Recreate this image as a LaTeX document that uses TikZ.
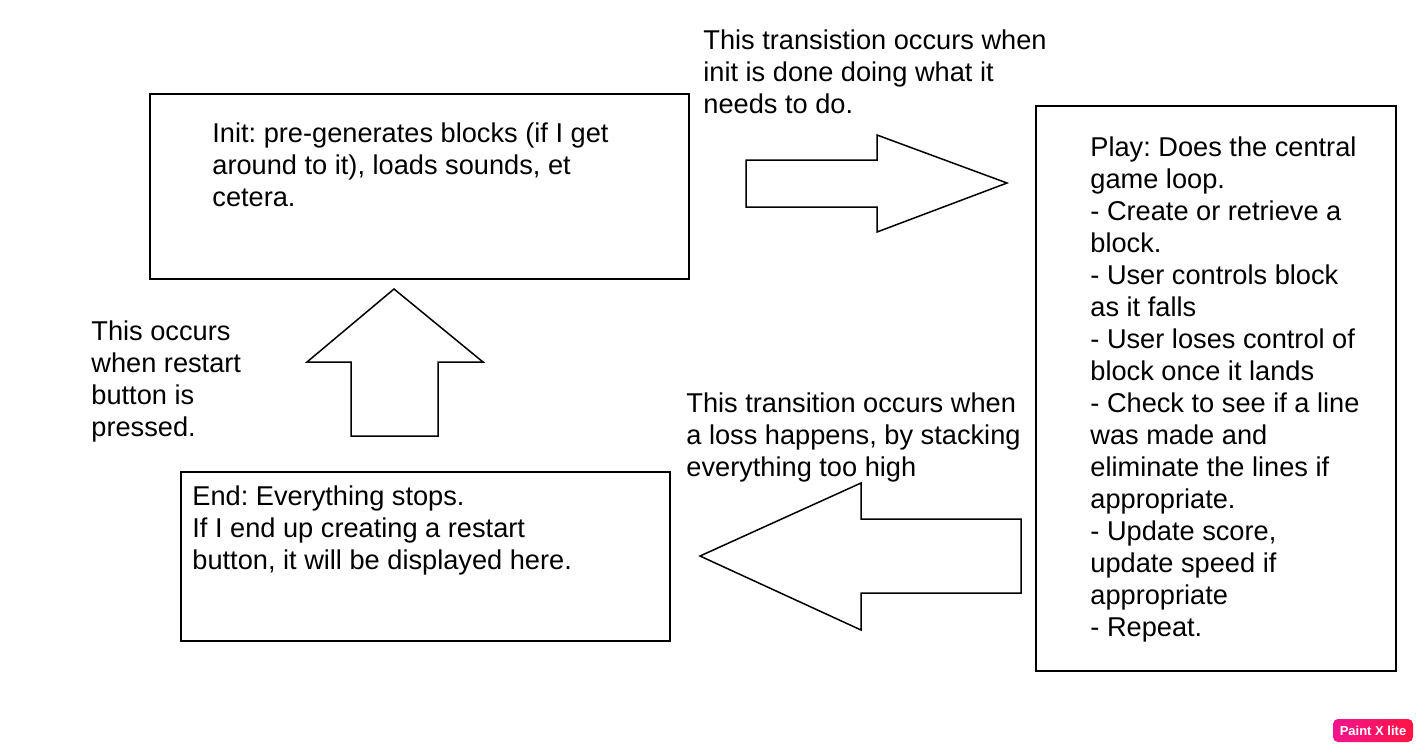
\documentclass[tikz,border=0pt]{standalone}
\usepackage{fontspec}
\setmainfont{Liberation Sans}
\frenchspacing
\definecolor{paintpink}{HTML}{F2148E}
\definecolor{paintred}{HTML}{FF1443}
\begin{document}
\begin{tikzpicture}[x=0.5pt,y=-0.5pt,
	statebox/.style={draw, line width=1pt},
	blockarrow/.style={draw, line width=0.75pt, line join=miter},
	txt/.style={anchor=base west, inner sep=0pt, align=left, font=\fontsize{13.6}{16}\selectfont},
	logo/.style={rounded corners=2.5pt, shade, left color=paintpink, right color=paintred, text=white,
		font=\fontsize{6.5}{7}\selectfont\bfseries, minimum width=40pt, minimum height=11.5pt, inner sep=0pt}]
	\useasboundingbox (0,0) rectangle (1423,752);

	% states (texts placed by their last baseline)
	\draw[statebox] (150,94) rectangle (689,279);
	\node[txt] (init) at (212,206) {Init: pre-generates blocks (if I get\\around to it), loads sounds, et\\cetera.};

	\draw[statebox] (1036,106) rectangle (1396,671);
	\node[txt] (play) at (1090,636) {Play: Does the central\\game loop.\\- Create or retrieve a\\block.\\- User controls block\\as it falls\\- User loses control of\\block once it lands\\- Check to see if a line\\was made and\\eliminate the lines if\\appropriate.\\- Update score,\\update speed if\\appropriate\\- Repeat.};

	\draw[statebox] (181,472) rectangle (670,641);
	\node[txt] (end) at (192,569) {End: Everything stops.\\If I end up creating a restart\\button, it will be displayed here.};

	% transitions
	\draw[blockarrow] (746,160) -- (877,160) -- (877,135) -- (1007,183) -- (877,232) -- (877,207) -- (746,207) -- cycle;
	\node[txt] (initplay) at (703,113) {This transistion occurs when\\init is done doing what it\\needs to do.};

	\draw[blockarrow] (700,556) -- (861,483) -- (861,519) -- (1021,519) -- (1021,593) -- (861,593) -- (861,630) -- cycle;
	\node[txt] (playend) at (686,476) {This transition occurs when\\a loss happens, by stacking\\everything too high};

	\draw[blockarrow] (394,289) -- (483,362) -- (438,362) -- (438,436) -- (351,436) -- (351,362) -- (307,362) -- cycle;
	\node[txt] (endinit) at (91,436) {This occurs\\when restart\\button is\\pressed.};

	% watermark
	\node[logo] (paintx) at (1373,730.5) {Paint X lite};
\end{tikzpicture}
\end{document}
